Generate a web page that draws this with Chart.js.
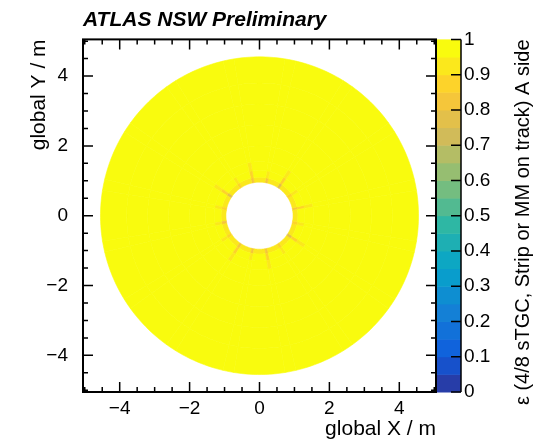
<!DOCTYPE html>
<html>
<head>
<meta charset="utf-8">
<script src="https://cdn.jsdelivr.net/npm/chart.js@4.4.1/dist/chart.umd.min.js"></script>
<style>
  html, body { margin: 0; padding: 0; background: #fff; }
</style>
</head>
<body>
<canvas id="eff" width="534" height="440"></canvas>
<script>
// radial bin edges of the wheel (m)
const rEdges = [0.96, 1.1, 1.3, 1.55, 2.0, 2.6, 3.2, 3.8, 4.55];
// azimuthal bin edges (deg): narrow bins sit on the sector overlaps
const phiEdges = [9.25, 13.25, 31.75, 35.75, 54.25, 58.25, 76.75, 80.75, 99.25, 103.25,
  121.75, 125.75, 144.25, 148.25, 166.75, 170.75, 189.25, 193.25, 211.75, 215.75,
  234.25, 238.25, 256.75, 260.75, 279.25, 283.25, 301.75, 305.75, 324.25, 328.25,
  346.75, 350.75, 369.25];
// efficiency in the sector bodies, one value per ring
const effBody = [0.94, 0.975, 0.985, 0.99, 0.99, 0.99, 0.99, 0.985];
// efficiency on the 16 sector overlaps, three innermost rings
const effGap0 = [0.80, 0.86, 0.78, 0.84, 0.82, 0.88, 0.79, 0.85, 0.83, 0.87, 0.80, 0.84, 0.81, 0.86, 0.78, 0.85];
const effGap1 = [0.88, 0.91, 0.86, 0.90, 0.89, 0.93, 0.87, 0.91, 0.90, 0.92, 0.88, 0.90, 0.89, 0.92, 0.86, 0.91];
const effGap2 = [0.94, 0.96, 0.93, 0.95, 0.94, 0.97, 0.93, 0.96, 0.95, 0.96, 0.94, 0.95, 0.94, 0.96, 0.93, 0.95];

const xTicks = [-4, -2, 0, 2, 4];
const yTicks = [-4, -2, 0, 2, 4];
const zTicks = [0, 0.1, 0.2, 0.3, 0.4, 0.5, 0.6, 0.7, 0.8, 0.9, 1];
const nContours = 20;

const FONT = '"Liberation Sans", Arial, Helvetica, sans-serif';

// ROOT kBird palette
const birdStops = [0, 0.125, 0.25, 0.375, 0.5, 0.625, 0.75, 0.875, 1];
const birdR = [0.2082, 0.0592, 0.0780, 0.0232, 0.1802, 0.5301, 0.8186, 0.9956, 0.9764];
const birdG = [0.1664, 0.3599, 0.5041, 0.6419, 0.7178, 0.7492, 0.7328, 0.7862, 0.9832];
const birdB = [0.5293, 0.8684, 0.8385, 0.7914, 0.6425, 0.4662, 0.3499, 0.1968, 0.0539];

function bird(f) {
  f = Math.max(0, Math.min(1, f));
  let k = 0;
  while (k < birdStops.length - 2 && f > birdStops[k + 1]) k++;
  const t = (f - birdStops[k]) / (birdStops[k + 1] - birdStops[k]);
  const c = a => Math.round(255 * (a[k] + (a[k + 1] - a[k]) * t));
  return 'rgb(' + c(birdR) + ',' + c(birdG) + ',' + c(birdB) + ')';
}

// colour of contour band i (as ROOT picks it from the 255 colour palette)
function bandColor(i) {
  return bird(Math.floor((i + 0.99) * 255 / nContours) / 254);
}

function effColor(v) {
  const band = Math.min(nContours - 1, Math.floor(v * nContours));
  return bandColor(band);
}

function cellEff(ir, j) {
  const gaps = [effGap0, effGap1, effGap2];
  if (j % 2 === 0 && ir < gaps.length) return gaps[ir][j / 2];
  return effBody[ir];
}

const minusFmt = v => v < 0 ? '\u2212' + Math.abs(v) : String(v);

const wheelPlugin = {
  id: 'wheel',
  beforeDatasetsDraw(chart) {
    const { ctx, chartArea, scales: { x, y } } = chart;
    ctx.save();
    ctx.beginPath();
    ctx.rect(chartArea.left, chartArea.top, chartArea.width, chartArea.height);
    ctx.clip();
    for (let ir = 0; ir < rEdges.length - 1; ir++) {
      const r0 = rEdges[ir], r1 = rEdges[ir + 1];
      for (let j = 0; j < phiEdges.length - 1; j++) {
        const p0 = phiEdges[j] * Math.PI / 180, p1 = phiEdges[j + 1] * Math.PI / 180;
        const n = Math.max(2, Math.ceil((phiEdges[j + 1] - phiEdges[j]) / 1.5));
        ctx.beginPath();
        for (let k = 0; k <= n; k++) {
          const p = p0 + (p1 - p0) * k / n;
          const px = x.getPixelForValue(r1 * Math.cos(p)), py = y.getPixelForValue(r1 * Math.sin(p));
          k === 0 ? ctx.moveTo(px, py) : ctx.lineTo(px, py);
        }
        for (let k = n; k >= 0; k--) {
          const p = p0 + (p1 - p0) * k / n;
          ctx.lineTo(x.getPixelForValue(r0 * Math.cos(p)), y.getPixelForValue(r0 * Math.sin(p)));
        }
        ctx.closePath();
        const col = effColor(cellEff(ir, j));
        ctx.fillStyle = col;
        ctx.strokeStyle = col;
        ctx.lineWidth = 0.6;
        ctx.fill();
        ctx.stroke();
      }
    }
    ctx.restore();
  },
  afterDraw(chart) {
    const { ctx, chartArea: a, scales: { x, y, z } } = chart;
    ctx.save();
    ctx.strokeStyle = '#000';
    ctx.fillStyle = '#000';

    // palette
    const bx0 = a.right + 1, bx1 = a.right + 25;
    for (let i = 0; i < nContours; i++) {
      const y0 = z.getPixelForValue(i / nContours), y1 = z.getPixelForValue((i + 1) / nContours);
      ctx.fillStyle = bandColor(i);
      ctx.fillRect(bx0, y1, bx1 - bx0, y0 - y1 + 0.5);
    }
    ctx.lineWidth = 1.5;
    ctx.beginPath();
    ctx.moveTo(bx1, a.top);
    ctx.lineTo(bx1, a.bottom);
    zTicks.forEach(v => {
      const py = z.getPixelForValue(v);
      ctx.moveTo(bx1, py);
      ctx.lineTo(bx1 - 10, py);
    });
    ctx.stroke();

    // frame and ticks
    ctx.lineWidth = 2;
    ctx.strokeRect(a.left, a.top, a.right - a.left, a.bottom - a.top);
    ctx.lineWidth = 1.5;
    ctx.beginPath();
    for (let v = -5; v <= 5.001; v += 0.5) {
      const len = xTicks.includes(v) ? 10 : 5;
      const px = x.getPixelForValue(v);
      ctx.moveTo(px, a.bottom); ctx.lineTo(px, a.bottom - len);
      ctx.moveTo(px, a.top); ctx.lineTo(px, a.top + len);
      const lenY = yTicks.includes(v) ? 10 : 5;
      const py = y.getPixelForValue(v);
      ctx.moveTo(a.left, py); ctx.lineTo(a.left + lenY, py);
      ctx.moveTo(a.right, py); ctx.lineTo(a.right - lenY, py);
    }
    ctx.stroke();

    // texts
    ctx.fillStyle = '#000';
    ctx.font = 'italic bold 21px ' + FONT;
    ctx.textAlign = 'left';
    ctx.textBaseline = 'alphabetic';
    ctx.fillText('ATLAS NSW Preliminary', a.left, 26);

    ctx.font = '21px ' + FONT;
    ctx.textAlign = 'right';
    ctx.fillText('global X / m', a.right, 435);

    ctx.save();
    ctx.translate(45, a.top);
    ctx.rotate(-Math.PI / 2);
    ctx.fillText('global Y / m', 0, 0);
    ctx.restore();

    ctx.font = '20px ' + FONT;
    ctx.save();
    ctx.translate(529, a.top);
    ctx.rotate(-Math.PI / 2);
    ctx.fillText('\u03b5 (4/8 sTGC, Strip or MM on track) A side', 0, 0);
    ctx.restore();

    ctx.restore();
  }
};

const tickFont = { family: FONT, size: 19 };

new Chart('eff', {
  type: 'scatter',
  data: { datasets: [] },
  options: {
    responsive: false,
    animation: false,
    layout: { padding: { top: 37, left: 0, right: 0, bottom: 0 } },
    plugins: { legend: { display: false }, tooltip: { enabled: false } },
    scales: {
      x: {
        type: 'linear', min: -5.05, max: 5.05,
        afterBuildTicks: s => { s.ticks = xTicks.map(v => ({ value: v })); },
        afterFit: s => { s.height = 48; },
        grid: { display: false, drawTicks: false },
        border: { display: false },
        ticks: { color: '#000', font: tickFont, padding: 5, autoSkip: false, maxRotation: 0, callback: minusFmt }
      },
      y: {
        type: 'linear', min: -5.05, max: 5.05,
        afterBuildTicks: s => { s.ticks = yTicks.map(v => ({ value: v })); },
        afterFit: s => { s.width = 83; },
        grid: { display: false, drawTicks: false },
        border: { display: false },
        ticks: { color: '#000', font: tickFont, padding: 15, autoSkip: false, callback: minusFmt }
      },
      z: {
        axis: 'y', type: 'linear', position: 'right', min: 0, max: 1,
        afterBuildTicks: s => { s.ticks = zTicks.map(v => ({ value: v })); },
        afterFit: s => { s.width = 98; },
        grid: { display: false, drawTicks: false },
        border: { display: false },
        ticks: {
          color: '#000', font: tickFont, padding: 28, autoSkip: false,
          callback: v => (v === 0 || v === 1) ? String(v) : v.toFixed(1)
        }
      }
    }
  },
  plugins: [wheelPlugin]
});
</script>
</body>
</html>
